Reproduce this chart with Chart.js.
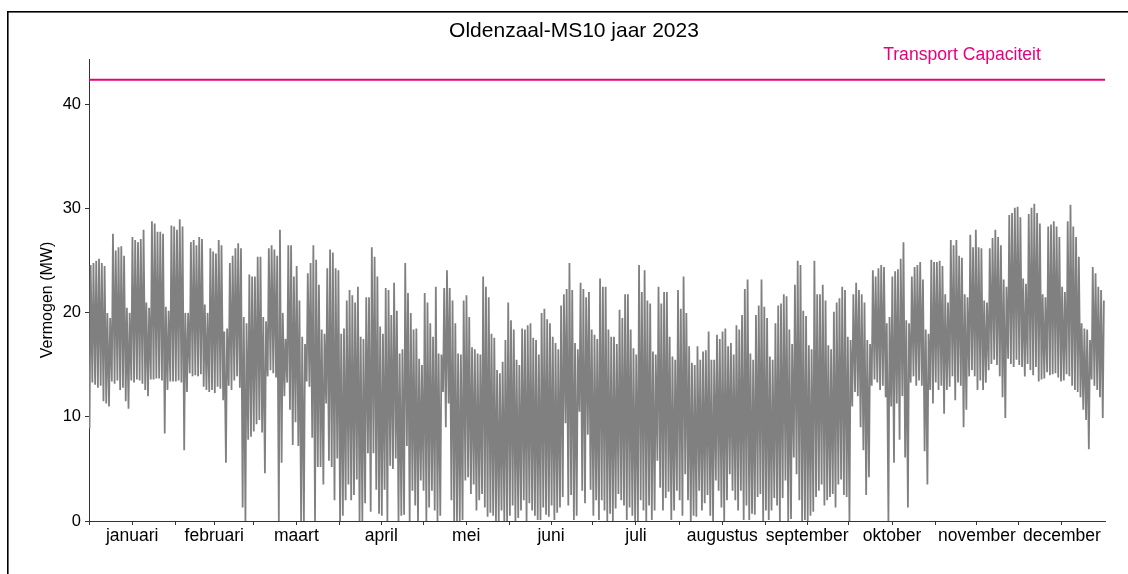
<!DOCTYPE html>
<html lang="nl">
<head>
<meta charset="utf-8">
<title>Oldenzaal-MS10 jaar 2023</title>
<script src="https://cdn.jsdelivr.net/npm/chart.js@4.4.0/dist/chart.umd.min.js"></script>
<style>
  html, body { margin: 0; padding: 0; background: #fff; }
  #wrap { width: 1128px; height: 574px; }
</style>
</head>
<body>
<div id="wrap"><canvas id="chartVermogen" width="1128" height="574"></canvas></div>
<script>
/** ================================
 *  1. Data
 =================================*/
const titel = "Oldenzaal-MS10 jaar 2023";
const yTitel = "Vermogen (MW)";
const capLabel = "Transport Capaciteit";
const transportCapaciteit = 42.4; // MW

const maanden = ["januari", "februari", "maart", "april", "mei", "juni",
                 "juli", "augustus", "september", "oktober", "november", "december"];
const maandStart = [0, 31, 59, 90, 120, 151, 181, 212, 243, 273, 304, 334, 365]; // dagnummer
const yTicks = [0, 10, 20, 30, 40];

// dagelijkse piek (MW), één regel per maand
const piekMW = [
  24.6,24.8,25.0,25.2,24.8,24.5,20.0,19.5,27.6,26.0,26.3,26.4,25.5,20.5,20.0,27.3,27.0,26.8,27.1,28.0,21.0,20.5,28.8,28.6,27.8,27.8,27.6,20.6,20.2,28.4,28.3,
  28.0,29.0,28.3,20.0,20.0,26.8,27.0,26.5,27.3,27.1,20.8,20.0,26.2,25.9,25.7,27.0,26.5,18.2,18.5,24.8,25.5,26.2,26.7,26.2,19.6,19.0,23.7,23.5,
  23.5,25.4,25.4,19.6,19.2,26.2,26.5,26.1,25.5,28.0,20.0,17.5,26.5,26.5,23.5,24.5,21.2,17.7,17.0,23.8,24.8,26.5,25.1,22.7,18.4,18.0,24.3,26.1,25.8,24.3,24.1,
  18.0,18.5,21.2,22.2,21.7,21.0,22.5,17.7,17.5,21.5,21.5,26.3,25.4,23.5,18.7,18.0,22.4,22.2,19.8,22.9,20.2,16.1,16.5,24.8,21.9,20.0,18.4,18.5,15.6,15.0,
  21.9,21.0,19.0,17.7,22.5,16.1,16.0,22.4,24.1,22.4,21.2,19.0,16.1,16.0,21.2,21.7,19.6,16.7,16.5,16.1,16.0,23.5,22.5,21.5,18.0,17.6,14.5,14.2,15.3,17.4,21.0,
  19.3,18.4,15.5,15.0,18.5,18.4,18.8,19.0,17.6,17.4,16.0,20.0,20.4,19.4,19.0,17.7,17.1,16.5,20.7,21.8,22.3,24.8,22.2,17.1,16.5,22.9,22.3,21.5,22.0,18.4,
  17.9,17.5,23.3,22.5,22.5,18.4,17.7,17.7,17.0,20.3,19.5,21.8,21.8,18.4,16.6,16.0,24.6,22.0,24.1,21.2,20.9,16.3,16.0,22.5,20.9,22.0,22.0,17.7,15.8,15.5,22.2,
  20.4,23.5,20.0,16.8,15.2,15.0,16.8,15.5,16.3,16.4,18.2,15.5,15.5,17.9,17.5,18.2,18.5,16.8,17.1,16.0,18.8,18.4,19.8,22.3,23.2,16.1,15.5,19.8,20.7,23.2,20.6,
  19.5,15.8,15.5,19.0,20.7,20.9,21.8,21.6,18.4,17.0,22.7,25.0,24.6,20.2,19.7,16.9,16.5,25.0,21.8,21.8,22.7,21.2,16.9,16.5,20.1,21.0,21.4,22.5,22.2,17.7,
  17.4,21.8,22.9,22.2,21.8,21.0,17.4,17.0,24.1,23.5,24.3,24.6,24.4,19.0,19.6,23.5,24.0,24.2,25.2,26.8,19.3,19.0,23.5,24.4,24.6,24.9,23.2,18.4,18.0,25.1,24.9,
  24.9,25.0,24.5,21.8,21.0,27.0,26.5,27.0,25.5,25.3,21.8,21.5,27.5,26.3,28.0,26.3,26.2,21.2,21.0,26.2,27.2,28.0,27.3,26.5,23.2,22.5,29.4,29.6,30.1,30.2,
  29.2,23.3,22.8,29.5,30.1,30.5,29.6,28.6,21.8,21.5,28.3,28.5,28.8,28.3,27.3,22.5,22.0,28.8,30.4,28.3,27.3,25.4,19.0,18.5,18.4,17.4,24.4,23.8,22.5,22.2,21.2
];

// dagelijks minimum (MW), één regel per maand
const dalMW = [
  8.9,13.3,13.1,12.8,13.0,11.5,11.3,11.0,13.4,13.2,13.5,12.6,12.8,11.5,10.8,13.5,13.3,13.6,13.5,13.2,12.6,12.0,13.6,13.6,13.7,13.7,13.5,8.4,12.6,13.4,13.4,
  13.4,13.5,13.3,6.8,12.4,14.2,13.9,14.0,13.9,14.1,12.9,12.6,12.4,12.6,12.3,12.9,12.7,11.6,5.6,13.0,12.6,13.5,13.9,12.8,1.3,0,7.8,8.1,
  8.6,9.3,9.7,8.5,4.6,13.9,14.5,14.2,13.8,0,5.6,12.0,13.3,10.7,7.3,9.5,7.2,0,0,13.4,12.9,8.0,0,5.2,5.2,3.5,11.3,5.8,5.2,2.0,6.0,
  0,0.5,2.0,3.5,2.0,2.5,4.0,0,0,1.7,6.5,0.9,6.5,3.0,0.7,0.5,3.0,0,5.3,5.0,6.0,0,0.5,0.6,7.2,0,2.9,1.5,0,3.9,
  2.9,0,1.3,2.9,1.0,0,0.5,12.4,9.0,11.3,2.0,0,0,0,0.1,3.9,4.2,2.6,3.5,1.0,2.0,2.6,1.3,0.4,0.8,0.5,0,0,1.0,0,0,
  0.5,1.5,0,0.3,1.0,2.0,0,1.7,1.0,0.5,0.1,0.1,1.3,0.6,0.4,1.5,0.1,0.8,1.3,2.3,9.4,1.5,2.5,0.1,0.5,10.5,2.9,1.7,8.3,3.0,
  0.5,2.0,0.1,2.0,1.0,0,0.7,0,1.2,2.6,2.0,1.5,0.1,1.3,0.5,0,0,2.0,1.0,0,1.5,0.1,1.0,5.8,3.2,1.0,2.2,2.8,0.1,1.0,2.9,
  2.0,0.5,4.5,2.0,0,0.5,0.4,2.9,1.0,1.7,2.5,0.5,0,3.9,2.9,1.3,0,2.0,4.5,2.9,2.0,1.0,2.9,0.1,1.5,0.1,0.7,0.6,2.3,2.6,0,
  1.0,0.1,1.0,2.2,1.5,0,2.2,3.9,0,0.2,6.1,4.5,2.0,0,0.1,0,0.5,0.9,2.3,2.9,3.5,1.5,2.0,2.3,2.6,1.3,3.5,4.0,2.5,2.3,
  0,11.0,12.4,12.0,9.0,6.8,2.5,4.2,13.0,13.6,13.3,12.6,13.0,11.9,0,11.0,5.6,11.3,7.8,12.0,6.1,1.3,13.3,13.9,13.0,13.5,13.0,6.7,3.5,12.6,11.3,
  13.3,12.6,13.0,10.3,12.6,12.9,13.9,11.6,13.3,13.0,9.0,10.7,13.9,14.5,13.9,12.6,13.5,12.6,13.3,14.5,15.1,15.5,15.0,13.9,11.9,9.9,15.6,15.1,14.8,15.5,
  15.0,14.8,13.9,15.1,14.5,14.0,14.8,13.4,13.6,13.7,14.3,14.0,14.1,14.2,13.8,13.4,13.5,14.1,13.9,13.0,12.6,12.4,11.9,10.7,9.7,6.9,13.6,13.0,12.6,11.9,9.9
];

/** ================================
 *  2. Reeksen opbouwen
 =================================*/
const vermogen = [];
dalMW.forEach((dal, d) => {
    vermogen.push({ x: d + 0.2, y: dal });        // nacht
    vermogen.push({ x: d + 0.6, y: piekMW[d] });  // dag
});

const capLijn = [
    { x: 0, y: transportCapaciteit },
    { x: 365, y: transportCapaciteit }
];

const maandMidden = maanden.map((m, i) => (maandStart[i] + maandStart[i + 1]) / 2);

const FONT = "'Liberation Sans', Arial, sans-serif";
const ROZE = "#e5007d";

/** ================================
 *  3. Teksten + kader
 =================================*/
const decorPlugin = {
    id: "decor",
    beforeDraw(chart) {
        const ctx = chart.ctx;
        ctx.save();
        ctx.fillStyle = "#000";
        ctx.fillRect(7, 11, 1121, 1.6);
        ctx.fillRect(7, 11, 1.6, 563);
        ctx.restore();
    },
    afterDraw(chart) {
        const ctx = chart.ctx;
        const xs = chart.scales.x;
        const ys = chart.scales.y;
        ctx.save();

        ctx.fillStyle = "#000";
        ctx.font = "21px " + FONT;
        ctx.textAlign = "center";
        ctx.textBaseline = "middle";
        ctx.fillText(titel, 574, 31);

        ctx.font = "16px " + FONT;
        ctx.translate(48, 300);
        ctx.rotate(-Math.PI / 2);
        ctx.fillText(yTitel, 0, 0);
        ctx.setTransform(1, 0, 0, 1, 0, 0);

        ctx.fillStyle = ROZE;
        ctx.font = "17.6px " + FONT;
        ctx.textAlign = "left";
        ctx.textBaseline = "alphabetic";
        ctx.fillText(capLabel, xs.getPixelForValue(285.3), ys.getPixelForValue(44.3));

        ctx.restore();
    }
};

/** ================================
 *  4. Grafiek
 =================================*/
Chart.defaults.font.family = FONT;
Chart.defaults.color = "#000";

new Chart(document.getElementById("chartVermogen"), {
    type: "line",
    data: {
        datasets: [{
            label: "Vermogen",
            data: vermogen,
            borderColor: "#808080",
            borderWidth: 1.8,
            pointRadius: 0,
            tension: 0
        }, {
            label: capLabel,
            data: capLijn,
            borderColor: ROZE,
            borderWidth: 2,
            pointRadius: 0
        }]
    },
    options: {
        responsive: false,
        animation: false,
        events: [],
        layout: { padding: { left: 0, right: 23, top: 59, bottom: 0 } },
        plugins: {
            legend: { display: false },
            tooltip: { enabled: false }
        },
        scales: {
            x: {
                type: "linear",
                min: 0,
                max: 365,
                afterBuildTicks: scale => {
                    scale.ticks = maandStart.slice(0, 12).concat(maandMidden)
                        .sort((a, b) => a - b)
                        .map(v => ({ value: v }));
                },
                afterFit: scale => { scale.height = 53; },
                ticks: {
                    autoSkip: false,
                    maxRotation: 0,
                    padding: 1,
                    font: { size: 17.5 },
                    callback: v => {
                        const i = maandMidden.indexOf(v);
                        return i >= 0 ? maanden[i] : "";
                    }
                },
                grid: { drawOnChartArea: false, drawTicks: true, tickLength: 4, color: "#333" },
                border: { color: "#333", width: 1 }
            },
            y: {
                min: 0,
                max: 44.4,
                afterBuildTicks: scale => {
                    scale.ticks = yTicks.map(v => ({ value: v }));
                },
                afterFit: scale => { scale.width = 89; },
                ticks: { padding: 4, font: { size: 16.5 } },
                grid: { drawOnChartArea: false, drawTicks: true, tickLength: 4, color: "#333" },
                border: { color: "#333", width: 1 }
            }
        }
    },
    plugins: [decorPlugin]
});
</script>
</body>
</html>
